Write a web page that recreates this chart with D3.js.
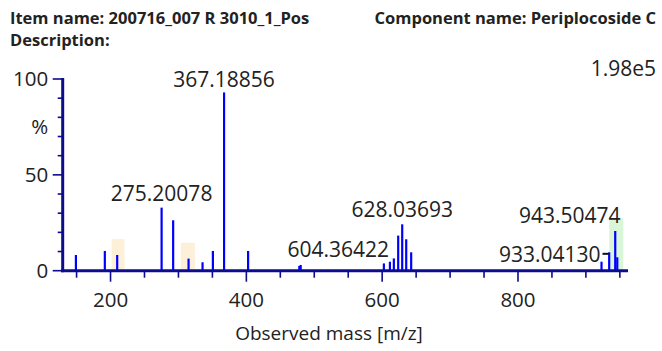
<!DOCTYPE html>
<html>
<head>
<meta charset="utf-8">
<script src="https://cdn.jsdelivr.net/npm/d3@7"></script>
<style>
  html, body { margin: 0; padding: 0; background: #fff; }
  svg { display: block; font-family: "Open Sans", "Noto Sans", sans-serif; }
</style>
</head>
<body>
<svg id="chart" width="662" height="351"></svg>
<script>
// Header text
const itemName = "Item name: 200716_007 R 3010_1_Pos";
const componentName = "Component name: Periplocoside C";
const descriptionText = "Description:";
const maxIntensity = "1.98e5";

// Spectrum peaks (m/z, relative intensity %)
const peakMz = [149, 191.6, 209.8, 275.2, 292.2, 314.9, 335.5, 350.7, 367.19, 402.6,
                478, 480, 602.5, 611.4, 617.2, 623.6, 629.5, 635.4, 642.7,
                923, 934.3, 943.2, 946.2];
const peakPct = [8.2, 10.3, 8.2, 32.9, 26.3, 6.3, 4.4, 10.3, 93.0, 10.3,
                 2.5, 3.0, 3.8, 4.7, 6.4, 18.3, 24.2, 16.4, 9.6,
                 4.7, 9.6, 20.7, 7.0];

// Peak annotations
const labelText = ["367.18856", "275.20078", "628.03693", "604.36422", "943.50474", "933.04130"];
const labelMz = [367.19, 275.2, 629.5, 610, 951, 921.5];
const labelPct = [96, 36.5, 27.8, 7.3, 24.7, 4.7];
const labelAlign = ["middle", "middle", "middle", "end", "end", "end"];

// Highlighted windows (from m/z, to m/z, height %)
const bandFrom = [201.5, 303.5, 934.3];
const bandTo = [220.6, 324.1, 955];
const bandPct = [16.5, 14.6, 27.3];
const bandColor = ["#fdf0d9", "#fdf0d9", "#d9f6d9"];

// Axes
const xDomain = [130, 962];
const xMajorTicks = [200, 400, 600, 800];
const xMinorTicks = d3.range(150, 951, 50);
const yMajorTicks = [0, 50, 100];
const yMinorTicks = d3.range(0, 101, 10);

const svg = d3.select("#chart");
const axisColor = "#0c0c8c";
const textColor = "#222";

const x = d3.scaleLinear().domain(xDomain).range([63, 628]);
const y = d3.scaleLinear().domain([0, 100]).range([270.7, 79]);

/* Header */
svg.append("text").attr("x", 10).attr("y", 24)
  .attr("font-size", 16.5).attr("font-weight", "bold").attr("fill", textColor)
  .text(itemName);
svg.append("text").attr("x", 10).attr("y", 46)
  .attr("font-size", 16.5).attr("font-weight", "bold").attr("fill", textColor)
  .text(descriptionText);
svg.append("text").attr("x", 656).attr("y", 24).attr("text-anchor", "end")
  .attr("font-size", 16.5).attr("font-weight", "bold").attr("fill", textColor)
  .text(componentName);
svg.append("text").attr("x", 656).attr("y", 76).attr("text-anchor", "end")
  .attr("font-size", 21).attr("fill", textColor)
  .text(maxIntensity);

/* Highlight bands */
svg.append("g").selectAll("rect")
  .data(d3.range(bandFrom.length))
  .join("rect")
  .attr("x", i => x(bandFrom[i]))
  .attr("width", i => x(bandTo[i]) - x(bandFrom[i]))
  .attr("y", i => y(bandPct[i]))
  .attr("height", i => y(0) - y(bandPct[i]))
  .attr("fill", i => bandColor[i]);

/* Peaks */
svg.append("g").selectAll("line")
  .data(d3.range(peakMz.length))
  .join("line")
  .attr("x1", i => x(peakMz[i])).attr("x2", i => x(peakMz[i]))
  .attr("y1", y(0)).attr("y2", i => y(peakPct[i]))
  .attr("stroke", "#0000ff").attr("stroke-width", 2.2);

/* Labels */
svg.append("g").selectAll("text")
  .data(d3.range(labelText.length))
  .join("text")
  .attr("x", i => x(labelMz[i]))
  .attr("y", i => y(labelPct[i]))
  .attr("text-anchor", i => labelAlign[i])
  .attr("font-size", 21).attr("fill", textColor)
  .text(i => labelText[i]);

// leader dash for 933.04130
svg.append("line")
  .attr("x1", x(921.5) + 2).attr("x2", x(933.5))
  .attr("y1", y(8.8)).attr("y2", y(8.8))
  .attr("stroke", "#111").attr("stroke-width", 2);

/* X axis */
const gx = svg.append("g").attr("transform", `translate(0,${y(0)})`);
gx.append("line").attr("x1", 61).attr("x2", 628).attr("stroke", axisColor).attr("stroke-width", 3);
gx.selectAll("line.minor").data(xMinorTicks).join("line").attr("class", "minor")
  .attr("x1", d => x(d)).attr("x2", d => x(d)).attr("y1", 0)
  .attr("y2", d => xMajorTicks.includes(d) ? 11 : 7)
  .attr("stroke", axisColor).attr("stroke-width", 1.6);
gx.selectAll("text").data(xMajorTicks).join("text")
  .attr("x", d => x(d)).attr("y", 36).attr("text-anchor", "middle")
  .attr("font-size", 20.5).attr("fill", textColor)
  .text(d => d);
svg.append("text").attr("x", 329).attr("y", 340).attr("text-anchor", "middle")
  .attr("font-size", 19).attr("fill", textColor)
  .text("Observed mass [m/z]");

/* Y axis */
const gy = svg.append("g").attr("transform", "translate(62.7,0)");
gy.append("line").attr("y1", y(100) - 1).attr("y2", y(0) + 1.5)
  .attr("stroke", axisColor).attr("stroke-width", 3);
gy.selectAll("line.tick").data(yMinorTicks).join("line").attr("class", "tick")
  .attr("y1", d => y(d)).attr("y2", d => y(d)).attr("x2", 0)
  .attr("x1", d => yMajorTicks.includes(d) ? -10 : -5)
  .attr("stroke", axisColor).attr("stroke-width", 1.6);
gy.selectAll("text").data(yMajorTicks).join("text")
  .attr("x", -14.5).attr("y", d => y(d)).attr("dy", "0.35em")
  .attr("text-anchor", "end").attr("font-size", 20.5).attr("fill", textColor)
  .text(d => d);
gy.append("text").attr("x", -14.5).attr("y", 127).attr("dy", "0.35em")
  .attr("text-anchor", "end").attr("font-size", 20.5).attr("fill", textColor)
  .text("%");
</script>
</body>
</html>
